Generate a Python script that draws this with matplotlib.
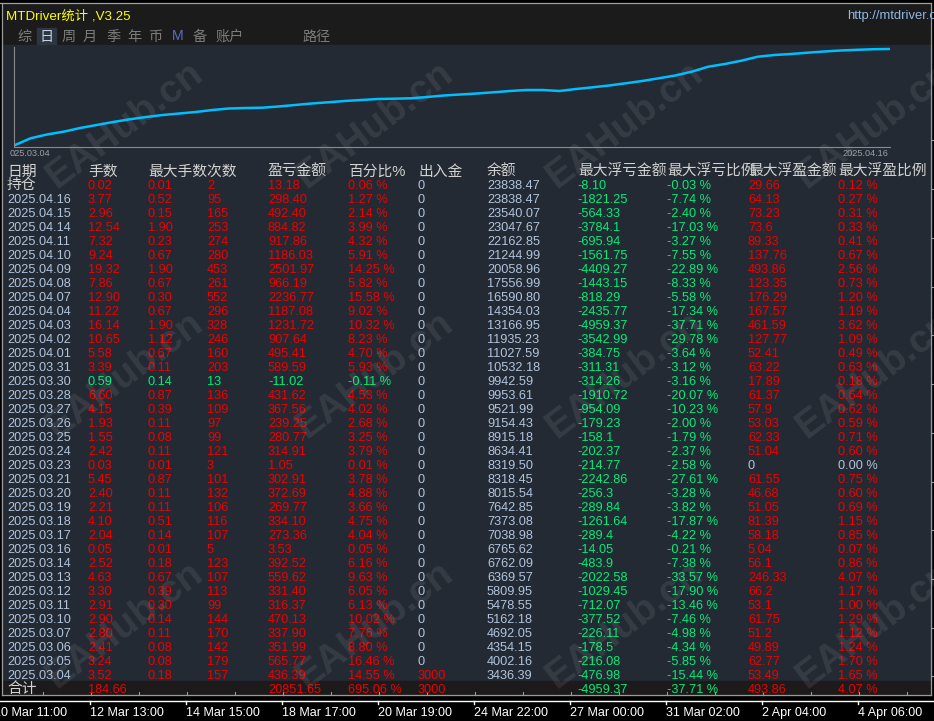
import matplotlib
matplotlib.use("Agg")
import matplotlib.pyplot as plt
from matplotlib.patches import Rectangle

#######################################
## Data
#######################################
row_labels = ["持仓", "2025.04.16", "2025.04.15", "2025.04.14", "2025.04.11", "2025.04.10",
              "2025.04.09", "2025.04.08", "2025.04.07", "2025.04.04", "2025.04.03", "2025.04.02",
              "2025.04.01", "2025.03.31", "2025.03.30", "2025.03.28", "2025.03.27", "2025.03.26",
              "2025.03.25", "2025.03.24", "2025.03.23", "2025.03.21", "2025.03.20", "2025.03.19",
              "2025.03.18", "2025.03.17", "2025.03.16", "2025.03.14", "2025.03.13", "2025.03.12",
              "2025.03.11", "2025.03.10", "2025.03.07", "2025.03.06", "2025.03.05", "2025.03.04"]
lots = [0.02, 3.77, 2.96, 12.54, 7.32, 9.24, 19.32, 7.86, 12.90, 11.22, 16.14, 10.65,
        5.58, 3.39, 0.59, 6.60, 4.15, 1.93, 1.55, 2.42, 0.03, 5.45, 2.40, 2.21,
        4.10, 2.04, 0.05, 2.52, 4.63, 3.30, 2.91, 2.90, 2.80, 2.41, 3.24, 3.52]
max_lot = [0.01, 0.52, 0.15, 1.90, 0.23, 0.67, 1.90, 0.67, 0.30, 0.67, 1.90, 1.12,
           0.67, 0.11, 0.14, 0.87, 0.39, 0.11, 0.08, 0.11, 0.01, 0.87, 0.11, 0.11,
           0.51, 0.14, 0.01, 0.18, 0.67, 0.39, 0.30, 0.14, 0.11, 0.08, 0.08, 0.18]
trade_count = [2, 95, 165, 253, 274, 280, 453, 261, 552, 296, 328, 246,
               160, 203, 13, 136, 109, 97, 99, 121, 3, 101, 132, 106,
               116, 107, 5, 123, 107, 113, 99, 144, 170, 142, 179, 157]
pnl = [13.18, 298.40, 492.40, 884.82, 917.86, 1186.03, 2501.97, 966.19, 2236.77, 1187.08, 1231.72, 907.64,
       495.41, 589.59, -11.02, 431.62, 367.56, 239.25, 280.77, 314.91, 1.05, 302.91, 372.69, 269.77,
       334.10, 273.36, 3.53, 392.52, 559.62, 331.40, 316.37, 470.13, 337.90, 351.99, 565.77, 436.39]
pnl_pct = [0.06, 1.27, 2.14, 3.99, 4.32, 5.91, 14.25, 5.82, 15.58, 9.02, 10.32, 8.23,
           4.70, 5.93, -0.11, 4.53, 4.02, 2.68, 3.25, 3.79, 0.01, 3.78, 4.88, 3.66,
           4.75, 4.04, 0.05, 6.16, 9.63, 6.05, 6.13, 10.02, 7.76, 8.80, 16.46, 14.55]
cash_flow = [0] * 35 + [3000]
balance = [23838.47, 23838.47, 23540.07, 23047.67, 22162.85, 21244.99, 20058.96, 17556.99, 16590.80,
           14354.03, 13166.95, 11935.23, 11027.59, 10532.18, 9942.59, 9953.61, 9521.99, 9154.43,
           8915.18, 8634.41, 8319.50, 8318.45, 8015.54, 7642.85, 7373.08, 7038.98, 6765.62,
           6762.09, 6369.57, 5809.95, 5478.55, 5162.18, 4692.05, 4354.15, 4002.16, 3436.39]
# the panel prints these two unevenly (73.6, -3784.1 ...) so keep them as shown
float_loss = ["-8.10", "-1821.25", "-564.33", "-3784.1", "-695.94", "-1561.75", "-4409.27", "-1443.15",
              "-818.29", "-2435.77", "-4959.37", "-3542.99", "-384.75", "-311.31", "-314.26", "-1910.72",
              "-954.09", "-179.23", "-158.1", "-202.37", "-214.77", "-2242.86", "-256.3", "-289.84",
              "-1261.64", "-289.4", "-14.05", "-483.9", "-2022.58", "-1029.45", "-712.07", "-377.52",
              "-226.11", "-178.5", "-216.08", "-476.98"]
float_loss_pct = [-0.03, -7.74, -2.40, -17.03, -3.27, -7.55, -22.89, -8.33, -5.58, -17.34, -37.71, -29.78,
                  -3.64, -3.12, -3.16, -20.07, -10.23, -2.00, -1.79, -2.37, -2.58, -27.61, -3.28, -3.82,
                  -17.87, -4.22, -0.21, -7.38, -33.57, -17.90, -13.46, -7.46, -4.98, -4.34, -5.85, -15.44]
float_profit = ["29.66", "64.13", "73.23", "73.6", "89.33", "137.76", "493.86", "123.35", "176.29",
                "167.57", "461.59", "127.77", "52.41", "63.22", "17.89", "61.37", "57.9", "53.03",
                "62.33", "51.04", "0", "61.55", "46.68", "51.05", "81.39", "58.18", "5.04", "56.1",
                "246.33", "66.2", "53.1", "61.75", "51.2", "49.89", "62.77", "53.49"]
float_profit_pct = [0.12, 0.27, 0.31, 0.33, 0.41, 0.67, 2.56, 0.73, 1.20, 1.19, 3.62, 1.09,
                    0.49, 0.63, 0.18, 0.64, 0.62, 0.59, 0.71, 0.60, 0.00, 0.75, 0.60, 0.69,
                    1.15, 0.85, 0.07, 0.86, 4.07, 1.17, 1.00, 1.29, 1.12, 1.24, 1.70, 1.65]

total_lots = 184.66
total_pnl = 20851.65
total_pct = 695.06
total_cash = 3000
worst_loss = "-4959.37"
worst_loss_pct = -37.71
best_profit = "493.86"
best_profit_pct = 4.07

# balance curve, sampled along the mini chart
equity = [3000, 4555, 5375, 5979, 6778, 7426, 8074, 8657, 9153, 9585, 9909, 10233, 10664,
          10988, 11096, 11161, 11420, 11744, 12068, 12327, 12608, 12823, 13039, 13104, 13190,
          13471, 13795, 14011, 14227, 14486, 14767, 14982, 14982, 14767, 15198, 15565, 15954,
          16429, 16926, 17508, 18113, 18933, 20013, 20596, 21308, 22172, 22539, 22755, 23036,
          23295, 23511, 23662, 23791, 23838]

headers = ["日期", "手数", "最大手数次数", "盈亏金额", "百分比%", "出入金", "余额",
           "最大浮亏金额", "最大浮亏比例", "最大浮盈金额", "最大浮盈比例"]
tabs = ["综", "日", "周", "月", "季", "年", "币", "M", "备", "账户", "路径"]
time_labels = ["10 Mar 11:00", "12 Mar 13:00", "14 Mar 15:00", "18 Mar 17:00", "20 Mar 19:00",
               "24 Mar 22:00", "27 Mar 00:00", "31 Mar 02:00", "2 Apr 04:00", "4 Apr 06:00"]

#######################################
## Styling
#######################################
W, H = 934, 721
FAM = ["Liberation Sans", "Noto Sans CJK SC"]
RED = "#f00000"
GREEN = "#00ee77"
BLUE = "#b0c4de"
HEAD = "#d2d2d2"
PANEL = "#242a33"
STRIP = "#1b1b1b"

header_x = [7, 88, 148, 268, 348, 418, 487, 578, 667, 748, 838]
col_x = [7, 88, 148, 207, 268, 348, 418, 487, 577, 667, 748, 838]
row0_base = 189.3
row_step = 14.0
NUM = 9.2
CJK = 10.65

fig = plt.figure(figsize=(W / 100, H / 100), dpi=100, facecolor="black")
ax = fig.add_axes([0, 0, 1, 1])
ax.set_xlim(0, W)
ax.set_ylim(H, 0)
ax.axis("off")

## panel backgrounds
ax.add_patch(Rectangle((2, 3.5), 928.5, 41.5, color=STRIP, zorder=0))
ax.add_patch(Rectangle((2, 45), 928.5, 636, color=PANEL, zorder=0))
ax.add_patch(Rectangle((2, 681), 928.5, 13.5, color="#1c1a1a", zorder=0))
ax.plot([0, 931], [3, 3], color="#a0a0a0", lw=0.9, zorder=1)
ax.plot([1.5, 1.5], [3, 695], color="#9a9a9a", lw=0.9, zorder=1)
ax.plot([930.5, 930.5], [3, 695], color="#9a9a9a", lw=0.9, zorder=1)
ax.plot([1.5, 930.5], [694.5, 694.5], color="#9a9a9a", lw=0.9, zorder=1)
for xt in range(43, 930, 48):
    ax.plot([xt, xt], [692, 695], color="#9a9a9a", lw=0.8, zorder=1)
for yt in [140, 189, 238, 287, 335, 384, 433, 482, 530, 579, 628, 676]:
    ax.plot([930.5, 934], [yt, yt], color="#9a9a9a", lw=0.8, zorder=1)

## title strip
ax.text(6, 19.5, "MTDriver统计 ,V3.25", color="#ffff00", fontsize=9.6, family=FAM, va="baseline")
ax.text(847, 18.5, "http://mtdriver.com", color="#8fb6e2", fontsize=9.4, family=FAM, va="baseline")
tab_x = [17, 39, 62, 83, 106, 127, 149, 172, 193, 216, 302]
ax.add_patch(Rectangle((37, 28), 18.5, 15.5, color="#2c3643", zorder=1))
for lab, tx in zip(tabs, tab_x):
    c = "#7c7c7c"
    if lab == "日":
        c = "#c4d0e0"
    elif lab == "M":
        c = "#5d6cc4"
    ax.text(tx, 40.5, lab, color=c, fontsize=10.2, family=FAM, va="baseline", zorder=2)

## mini balance chart
eq_ax = fig.add_axes([14 / W, 1 - 146.5 / H, 876 / W, 99.5 / H])
eq_ax.set_facecolor("none")
eq_ax.plot(range(len(equity)), equity, color="#00bfff", lw=1.8, solid_joinstyle="miter")
per_px = (max(equity) - min(equity)) / 96.5
eq_ax.set_xlim(0, len(equity) - 1)
eq_ax.set_ylim(min(equity) - per_px * 1.0, max(equity) + per_px * 2.0)
eq_ax.set_xticks([])
eq_ax.set_yticks([])
for side in ["top", "right"]:
    eq_ax.spines[side].set_visible(False)
for side in ["left", "bottom"]:
    eq_ax.spines[side].set_color("#8a8a8a")
    eq_ax.spines[side].set_linewidth(0.8)
ax.text(10, 156, "025.03.04", color="#9aa0a8", fontsize=6.6, family=FAM, va="baseline")
ax.text(888, 156, "2025.04.16", color="#9aa0a8", fontsize=6.6, family=FAM, va="baseline", ha="right")

## table header
for h, hx in zip(headers, header_x):
    ax.text(hx, 175.5, h, color=HEAD, fontsize=CJK, family=FAM, va="baseline", zorder=3)

## table rows
for i in range(len(row_labels)):
    yb = row0_base + i * row_step
    c_main = RED if pnl[i] >= 0 else GREEN
    lab = row_labels[i]
    if lab == "持仓":
        ax.text(col_x[0], yb, lab, color=HEAD, fontsize=CJK, family=FAM, va="baseline", zorder=3)
    else:
        ax.text(col_x[0], yb, lab, color=BLUE, fontsize=NUM, family=FAM, va="baseline", zorder=3)
    cells = [
        ("%.2f" % lots[i], c_main),
        ("%.2f" % max_lot[i], c_main),
        ("%d" % trade_count[i], c_main),
        ("%.2f" % pnl[i], c_main),
        ("%.2f %%" % pnl_pct[i], c_main),
        ("%d" % cash_flow[i], RED if cash_flow[i] != 0 else BLUE),
        ("%.2f" % balance[i], BLUE),
        (float_loss[i], GREEN),
        ("%.2f %%" % float_loss_pct[i], GREEN),
        (float_profit[i], RED if float(float_profit[i]) > 0 else BLUE),
        ("%.2f %%" % float_profit_pct[i], RED if float_profit_pct[i] > 0 else BLUE),
    ]
    for (txt, c), cx in zip(cells, col_x[1:]):
        ax.text(cx, yb, txt, color=c, fontsize=NUM, family=FAM, va="baseline", zorder=3)

## totals row
yb = row0_base + len(row_labels) * row_step
ax.text(col_x[0], yb, "合计", color=HEAD, fontsize=CJK, family=FAM, va="baseline", zorder=3)
totals = [(1, "%.2f" % total_lots, RED), (4, "%.2f" % total_pnl, RED), (5, "%.2f %%" % total_pct, RED),
          (6, "%d" % total_cash, RED), (8, worst_loss, GREEN), (9, "%.2f %%" % worst_loss_pct, GREEN),
          (10, best_profit, RED), (11, "%.2f %%" % best_profit_pct, RED)]
for ci, txt, c in totals:
    ax.text(col_x[ci], yb, txt, color=c, fontsize=NUM, family=FAM, va="baseline", zorder=3)

## watermark
for wy in [125, 375, 625]:
    for wx in [125, 375, 625, 875]:
        ax.text(wx, wy, "EAHub.cn", rotation=37, rotation_mode="anchor", ha="center", va="center",
                fontsize=28, fontweight="bold", family="Liberation Sans", color="white",
                alpha=0.085, zorder=10)

## time axis at the bottom
ax.plot([0, W], [700.5, 700.5], color="white", lw=1.0, zorder=2)
for k, lab in enumerate(time_labels):
    tx = -6 + 96 * k
    ax.plot([tx, tx], [700.5, 704], color="white", lw=1.0, zorder=2)
    ax.text(tx + 0.5, 716, lab, color="white", fontsize=9.0, family=FAM, va="baseline", zorder=2)

fig.savefig("out.png", dpi=100, facecolor="black")
